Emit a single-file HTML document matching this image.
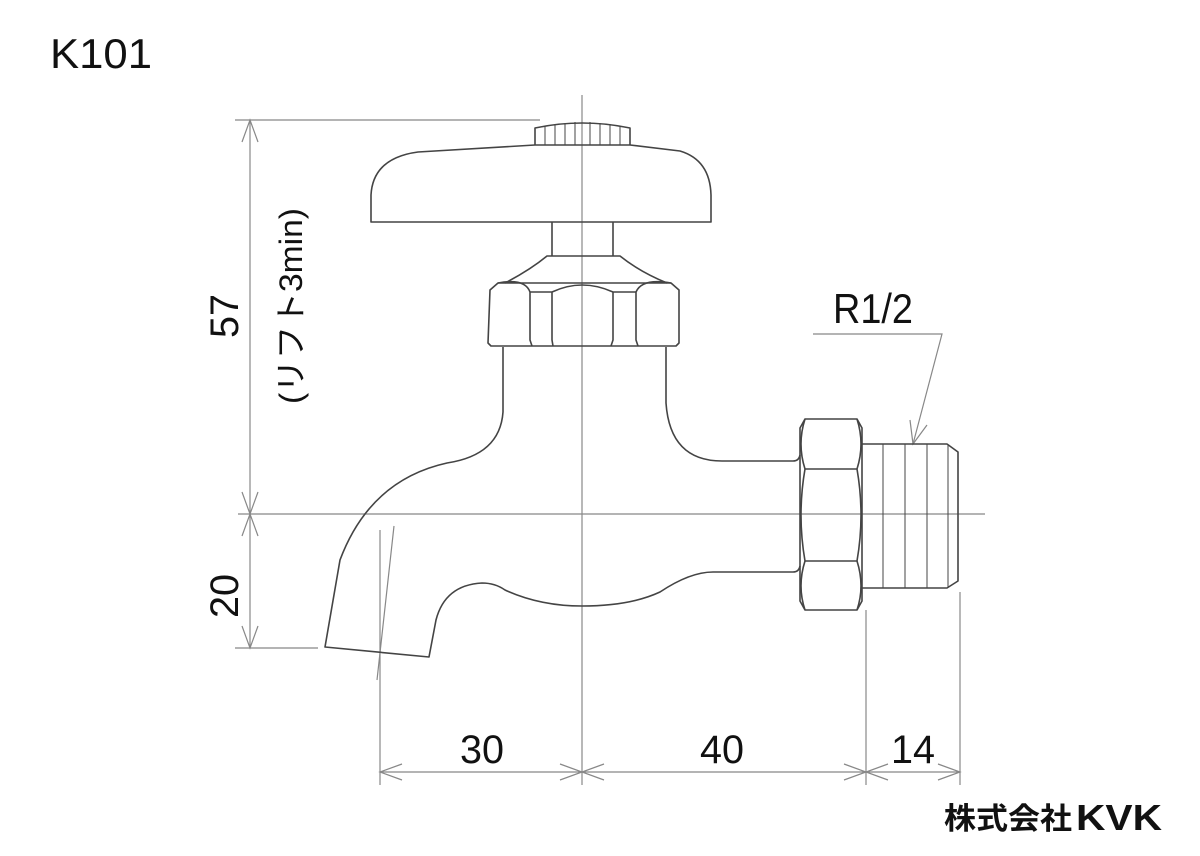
<!DOCTYPE html>
<html><head><meta charset="utf-8"><style>html,body{margin:0;padding:0;background:#fff}svg{display:block}</style></head>
<body>
<svg width="1200" height="856" viewBox="0 0 1200 856" xmlns="http://www.w3.org/2000/svg">
<g fill="none" stroke="#888" stroke-width="1.2">
<!-- center lines -->
<line x1="582" y1="95" x2="582" y2="785"/>
<line x1="238" y1="514" x2="985" y2="514"/>
<!-- extension lines -->
<line x1="235" y1="120" x2="540" y2="120"/>
<line x1="235" y1="648" x2="318" y2="648"/>
<line x1="380" y1="530" x2="380" y2="785"/>
<line x1="394" y1="526" x2="377" y2="680"/>
<line x1="866" y1="610" x2="866" y2="785"/>
<line x1="960" y1="592" x2="960" y2="785"/>
<!-- vertical dim -->
<line x1="250" y1="120" x2="250" y2="648"/>
<polyline points="242,142 250,120 258,142"/>
<polyline points="242,492 250,514 258,492"/>
<polyline points="242,536 250,514 258,536"/>
<polyline points="242,626 250,648 258,626"/>
<!-- horizontal dim -->
<line x1="380" y1="772" x2="960" y2="772"/>
<polyline points="402,764 380,772 402,780"/>
<polyline points="560,764 582,772 560,780"/>
<polyline points="604,764 582,772 604,780"/>
<polyline points="844,764 866,772 844,780"/>
<polyline points="888,764 866,772 888,780"/>
<polyline points="938,764 960,772 938,780"/>
<!-- leader -->
<polyline points="813,334 942,334 913,444"/>
<polyline points="910,420 913,444 927,425"/>
</g>
<g fill="none" stroke="#444" stroke-width="1.6" stroke-linejoin="round">
<!-- knob cap -->
<path d="M535,145 L535,128 Q582,118 630,128 L630,145"/>
<g stroke-width="1"><line x1="545" y1="126" x2="545" y2="145"/><line x1="555" y1="124" x2="555" y2="145"/><line x1="565" y1="123" x2="565" y2="145"/><line x1="575" y1="122" x2="575" y2="145"/><line x1="590" y1="122" x2="590" y2="145"/><line x1="600" y1="123" x2="600" y2="145"/><line x1="610" y1="124" x2="610" y2="145"/><line x1="620" y1="126" x2="620" y2="145"/></g>
<!-- handle -->
<path d="M371,222 L371,195 Q373,158 418,152 L535,145 L630,145 L680,151 Q710,160 711,195 L711,222 Z"/>
<!-- stem -->
<path d="M552,222 L552,256 M613,222 L613,256"/>
<!-- bonnet taper -->
<path d="M505,283 Q530,270 547,256 L620,256 Q640,272 667,283"/>
<!-- hex nut -->
<path d="M490,290 L498,283 L671,283 L679,290 L679,343 L676,346 L491,346 L488,343 Z"/>
<path d="M498,283 Q525,278 530,292 L530,340 L532,346 M530,292 L552,292 M553,346 L552,340 L552,292 Q582,278 613,292 L613,340 L611,346 M613,292 L636,292 L636,340 L638,346 M636,292 Q642,278 671,283"/>
<!-- body -->
<path d="M503,347 L503,412 Q500,455 447,463 Q370,480 340,560 L325,647 L429,657 L436,620 Q445,585 482,583 Q495,583 505,590 Q540,606 582,606 Q630,606 660,592 Q690,572 713,572 L793,572 Q799,572 800,566"/>
<path d="M666,347 L666,403 Q670,461 722,461 L793,461 Q799,461 800,455"/>
<!-- big nut -->
<path d="M805,419 L857,419 L862,428 L862,601 L857,610 L805,610 L800,601 L800,428 Z"/>
<path d="M805,469 L857,469 M805,561 L857,561"/>
<path d="M805,419 Q797,444 805,469 Q797,515 805,561 Q797,586 805,610 M857,419 Q865,444 857,469 Q865,515 857,561 Q865,586 857,610"/>
<!-- thread -->
<path d="M862,444 L947,444 L958,452 L958,581 L947,588 L862,588"/>
<g stroke-width="1"><line x1="883" y1="444" x2="883" y2="588"/><line x1="905" y1="444" x2="905" y2="588"/><line x1="927" y1="444" x2="927" y2="588"/><line x1="948" y1="444" x2="948" y2="588"/></g>
</g>
<g font-family="Liberation Sans, Noto Sans CJK JP, sans-serif" fill="#111">
<text x="50" y="68" font-size="42" textLength="102" lengthAdjust="spacingAndGlyphs">K101</text>
<text x="833" y="323" font-size="42" textLength="80" lengthAdjust="spacingAndGlyphs">R1/2</text>
<text x="460" y="763" font-size="40" textLength="44" lengthAdjust="spacingAndGlyphs">30</text>
<text x="700" y="763" font-size="40" textLength="44" lengthAdjust="spacingAndGlyphs">40</text>
<text x="891" y="763" font-size="40" textLength="44" lengthAdjust="spacingAndGlyphs">14</text>
<text transform="translate(238,338) rotate(-90)" font-size="40" textLength="44" lengthAdjust="spacingAndGlyphs">57</text>
<text transform="translate(238,618) rotate(-90)" font-size="40" textLength="44" lengthAdjust="spacingAndGlyphs">20</text>
<text transform="translate(302,404) rotate(-90)" font-size="32" textLength="196" lengthAdjust="spacingAndGlyphs">(リフト3min)</text>
<text x="944" y="829" font-size="30" font-weight="bold" textLength="128" lengthAdjust="spacingAndGlyphs" font-family="Noto Sans CJK JP, sans-serif">株式会社</text>
<text x="1076" y="830" font-size="36" font-weight="900" textLength="86" lengthAdjust="spacingAndGlyphs">KVK</text>
</g>
</svg>
</body></html>
